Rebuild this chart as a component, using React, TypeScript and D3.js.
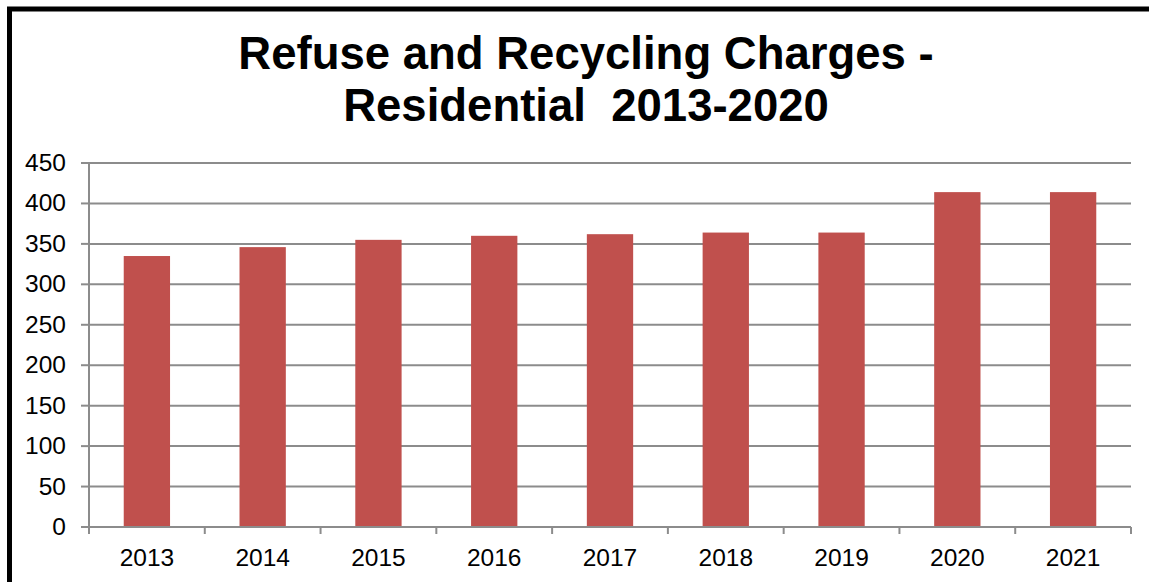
import React from "react";
import * as d3 from "d3";

const years = ["2013", "2014", "2015", "2016", "2017", "2018", "2019", "2020", "2021"];
const charges = [335, 346, 355, 360, 362, 364, 364, 414, 414];
const yTicks = [0, 50, 100, 150, 200, 250, 300, 350, 400, 450];
const titleLines = ["Refuse and Recycling Charges -", "Residential  2013-2020"];

const W = 1149;
const H = 582;
const left = 89;
const right = 1131;
const top = 163;
const bottom = 527;

export default function App() {
  const x = d3.scaleBand<string>().domain(years).range([left, right]).paddingInner(0.6).paddingOuter(0.3);
  const xb = d3.scaleBand<string>().domain(years).range([left, right]);
  const y = d3.scaleLinear().domain([0, 450]).range([bottom, top]);
  const font = "'Liberation Sans', Arial, sans-serif";
  return (
    <svg width={W} height={H} style={{ position: "fixed", left: 0, top: 0, background: "#fff" }} fontFamily={font}>
      <rect x={0} y={0} width={W} height={H} fill="#fff" />
      <rect x={9.5} y={9} width={W + 50} height={H + 50} fill="none" stroke="#000" strokeWidth={5} />
      {titleLines.map((t, i) => (
        <text key={i} x={586} y={69 + i * 52} textAnchor="middle" fontSize={45.5} fontWeight="bold" fill="#000" style={{ whiteSpace: "pre" }}>
          {t}
        </text>
      ))}
      {yTicks.map((v) => (
        <g key={v}>
          {v > 0 && <line x1={left} x2={right} y1={y(v)} y2={y(v)} stroke="#8c8c8c" strokeWidth={2} />}
          <line x1={81} x2={left} y1={y(v)} y2={y(v)} stroke="#8c8c8c" strokeWidth={2} />
          <text x={66} y={y(v) + 8} textAnchor="end" fontSize={24.5} fill="#000">
            {v}
          </text>
        </g>
      ))}
      {years.map((yr, i) => (
        <rect key={yr} x={x(yr)!} y={y(charges[i])} width={x.bandwidth()} height={bottom - y(charges[i])} fill="#C0504D" />
      ))}
      <line x1={left} x2={left} y1={top} y2={bottom} stroke="#8c8c8c" strokeWidth={2} />
      <line x1={left} x2={right} y1={bottom} y2={bottom} stroke="#8c8c8c" strokeWidth={2} />
      {years.map((yr) => (
        <line key={"t" + yr} x1={xb(yr)!} x2={xb(yr)!} y1={bottom} y2={534} stroke="#8c8c8c" strokeWidth={2} />
      ))}
      <line x1={right} x2={right} y1={bottom} y2={534} stroke="#8c8c8c" strokeWidth={2} />
      {years.map((yr) => (
        <text key={"l" + yr} x={xb(yr)! + xb.bandwidth() / 2} y={566} textAnchor="middle" fontSize={24.5} fill="#000">
          {yr}
        </text>
      ))}
    </svg>
  );
}
